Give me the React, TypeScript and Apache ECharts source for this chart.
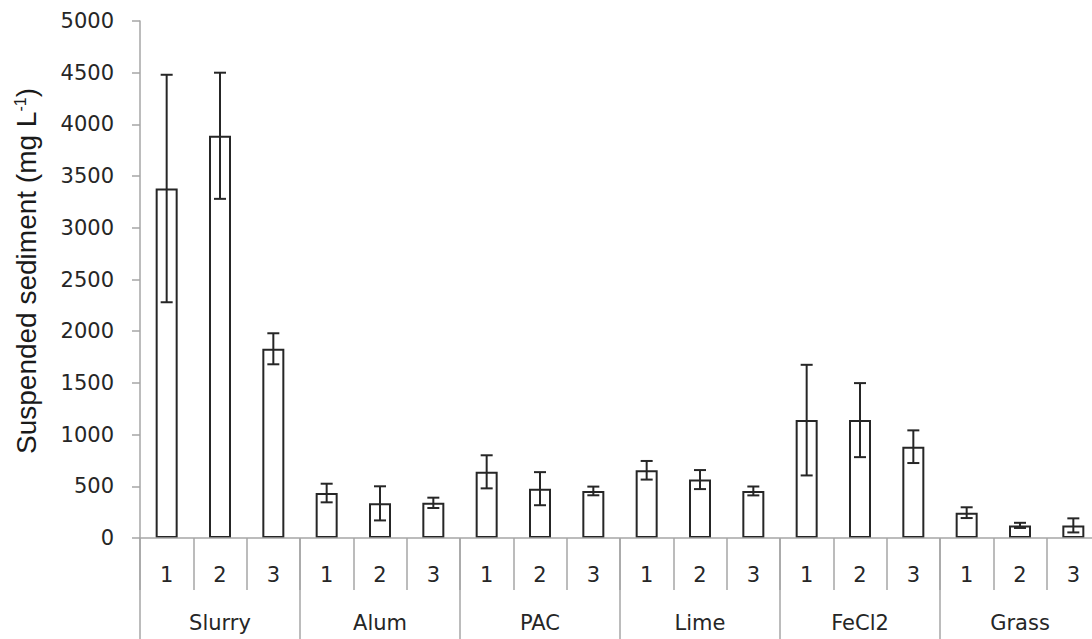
import React, { useEffect, useRef } from "react";
import * as echarts from "echarts";

const groups = ["Slurry", "Alum", "PAC", "Lime", "FeCl2", "Grass"];
const replicates = ["1", "2", "3"];
const means = [3380, 3890, 1830, 435, 335, 340, 640, 477, 455, 655, 565, 455, 1140, 1140, 883, 245, 122, 122];
const errors = [1100, 610, 150, 90, 165, 50, 160, 160, 42, 90, 92, 43, 535, 358, 158, 52, 25, 68];
const yMin = 0;
const yMax = 5000;
const yStep = 500;
const yTitle = "Suspended sediment (mg L{sup|-1})";

const categories = groups.flatMap((g) => replicates.map((r) => `${g}-${r}`));

const AXIS = "#a6a6a6";
const INK = "#262626";
const FONT = "DejaVu Sans";

export default function App() {
  const ref = useRef<HTMLDivElement>(null);
  useEffect(() => {
    if (!ref.current) return;
    const chart = echarts.init(ref.current, undefined, { renderer: "svg" });
    const errData = means.map((m, i) => [i, m - errors[i], m + errors[i]]);
    chart.setOption({
      animation: false,
      backgroundColor: "#ffffff",
      grid: { left: 140, top: 21, bottom: 101, right: 0, containLabel: false },
      graphic: [
        {
          type: "text",
          x: 26,
          y: 271,
          rotation: Math.PI / 2,
          style: {
            text: yTitle,
            fill: "#1a1a1a",
            fontFamily: "Liberation Sans",
            fontSize: 28,
            textAlign: "center",
            textVerticalAlign: "middle",
            rich: {
              sup: { fontSize: 16, fontFamily: "Liberation Sans", verticalAlign: "top", fill: "#1a1a1a" },
            },
          },
        },
      ],
      xAxis: [
        {
          type: "category",
          data: categories,
          position: "bottom",
          z: 5,
          axisLine: { show: true, lineStyle: { color: AXIS, width: 1.5 } },
          axisTick: { show: true, interval: 0, length: 52, lineStyle: { color: AXIS, width: 1.5 } },
          axisLabel: {
            interval: 0,
            margin: 26,
            fontSize: 21,
            fontFamily: FONT,
            color: INK,
            formatter: (_v: string, i: number) => replicates[i % replicates.length],
          },
          splitLine: { show: false },
        },
        {
          type: "category",
          data: groups,
          position: "bottom",
          gridIndex: 0,
          z: 5,
          axisLine: { show: false },
          axisTick: { show: true, interval: 0, length: 110, lineStyle: { color: AXIS, width: 1.5 } },
          axisLabel: { interval: 0, margin: 74, fontSize: 21, fontFamily: FONT, color: INK },
          splitLine: { show: false },
        },
      ],
      yAxis: {
        type: "value",
        min: yMin,
        max: yMax,
        interval: yStep,
        axisLine: { show: true, lineStyle: { color: AXIS, width: 1.5 } },
        axisTick: { show: true, length: 8, lineStyle: { color: AXIS, width: 1.5 } },
        axisLabel: {
          margin: 26,
          fontSize: 21,
          fontFamily: FONT,
          color: INK,
          formatter: (v: number) => String(v),
        },
        splitLine: { show: false },
      },
      series: [
        {
          type: "bar",
          xAxisIndex: 0,
          data: means,
          barWidth: 22,
          itemStyle: { color: "#ffffff", borderColor: INK, borderWidth: 2 },
          z: 2,
        },
        {
          type: "custom",
          xAxisIndex: 0,
          data: errData,
          encode: { x: 0, y: [1, 2] },
          z: 4,
          renderItem: (_params: any, api: any) => {
            const x = api.value(0);
            const lo = api.coord([x, api.value(1)]);
            const hi = api.coord([x, api.value(2)]);
            const half = 6;
            const style = { stroke: INK, lineWidth: 2, fill: null };
            return {
              type: "group",
              children: [
                { type: "line", shape: { x1: hi[0], y1: hi[1], x2: lo[0], y2: lo[1] }, style },
                { type: "line", shape: { x1: hi[0] - half, y1: hi[1], x2: hi[0] + half, y2: hi[1] }, style },
                { type: "line", shape: { x1: lo[0] - half, y1: lo[1], x2: lo[0] + half, y2: lo[1] }, style },
              ],
            };
          },
        },
      ],
    });
    return () => chart.dispose();
  }, []);
  return (
    <div
      ref={ref}
      style={{ position: "fixed", left: 0, top: 0, width: 1100, height: 639, background: "#fff" }}
    />
  );
}
